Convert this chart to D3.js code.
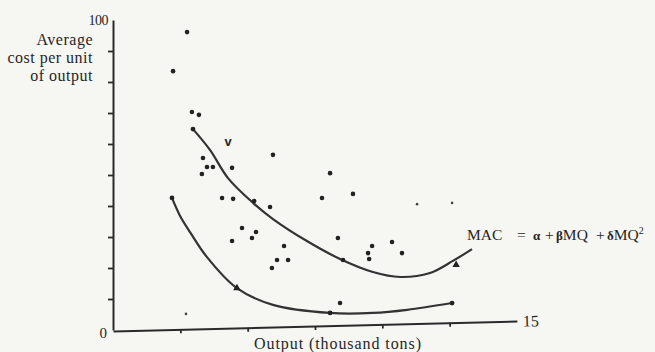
<!DOCTYPE html>
<html>
<head>
<meta charset="utf-8">
<script src="https://cdn.jsdelivr.net/npm/d3@7/dist/d3.min.js"></script>
<style>
  html, body { margin: 0; padding: 0; background: #f6f6f3; }
  svg { display: block; }
  text { font-family: "Liberation Serif", "DejaVu Serif", serif; fill: #262626; }
</style>
</head>
<body>
<svg id="chart" width="655" height="352"></svg>
<script>
// ---------- data (x: output, thousand tons; y: average cost per unit) ----------
const xDomain = [0, 15];
const yDomain = [0, 100];
const xTickValues = [2.5, 5, 7.5, 10, 12.5];
const yTickValues = [10, 20, 30, 40, 50, 60, 70, 80, 90];
const yEndLabels = ["0", "100"];
const xEndLabel = "15";

// observed plants (scatter)
const pointX = [2.75, 2.23, 2.93, 3.19, 5.94, 3.34, 3.49, 3.71, 3.30, 4.42,
                8.06, 7.76, 8.91, 4.05, 4.46, 5.24, 5.83, 4.79, 5.31, 5.16,
                4.42, 6.35, 8.35, 6.09, 6.50, 5.90, 8.54, 9.62, 9.47, 9.51,
                10.36, 10.73, 8.43];
const pointY = [96.1, 83.5, 70.3, 69.4, 56.5, 55.5, 52.6, 52.6, 50.3, 52.3,
                50.6, 42.6, 43.9, 42.6, 42.3, 41.6, 39.7, 32.9, 31.6, 29.7,
                28.7, 27.1, 29.7, 22.6, 22.6, 20.0, 22.6, 27.1, 24.8, 22.9,
                28.4, 24.8, 8.7];
// faint small dots
const smallX = [11.29, 12.59, 2.71];
const smallY = [40.6, 41.0, 5.2];
// "v" mark
const vMarkX = [4.27];
const vMarkY = [60.6];

// fitted curves
const upperX = [2.97, 3.60, 4.27, 5.20, 5.94, 7.20, 8.43, 9.65, 10.66, 11.77, 12.62, 13.33];
const upperY = [64.8, 58.1, 49.0, 41.0, 35.8, 28.7, 22.9, 18.7, 17.1, 18.4, 22.3, 26.1];
const lowerX = [2.19, 2.49, 2.86, 3.49, 4.60, 5.94, 8.06, 9.65, 10.92, 12.59];
const lowerY = [42.6, 36.8, 31.6, 23.5, 13.5, 8.1, 5.5, 5.5, 6.5, 8.7];

// markers on the curves
const triX = [4.60, 12.74];
const triY = [13.5, 21.0];
const dotX = [8.06, 12.59, 2.97, 2.19];
const dotY = [5.5, 8.7, 64.8, 42.6];

const yTitle = ["Average", "cost per unit", "of output"];
const xTitle = "Output (thousand tons)";

// ---------- drawing ----------
const svg = d3.select("#chart");
const ink = "#2a2a2a";

const x = d3.scaleLinear().domain(xDomain).range([113, 517]);
const y = d3.scaleLinear().domain(yDomain).range([330, 20]);

// y axis
const yAxis = svg.append("g")
  .attr("transform", `translate(${x(0)},0)`)
  .call(d3.axisLeft(y).tickValues(yTickValues).tickSize(5).tickSizeOuter(0).tickFormat(""));
yAxis.select(".domain").attr("stroke", ink).attr("stroke-width", 2);
yAxis.selectAll(".tick line").attr("stroke", ink).attr("stroke-width", 1.8);

// x axis (slightly tilted as in the scan)
const xAxis = svg.append("g")
  .attr("transform", `translate(0,${y(0) + 1}) rotate(-1.4, ${x(0)}, 0)`)
  .call(d3.axisBottom(x).tickValues(xTickValues).tickSize(4).tickSizeOuter(0).tickFormat(""));
xAxis.select(".domain").attr("stroke", ink).attr("stroke-width", 2);
xAxis.selectAll(".tick line").attr("stroke", ink).attr("stroke-width", 1.8);
xAxis.append("text")
  .attr("x", x(15) + 6).attr("y", 0).attr("dy", "0.35em")
  .attr("text-anchor", "start").style("font-size", "16px")
  .text(xEndLabel);

// end labels for y
svg.append("text").attr("x", 107).attr("y", 338).attr("text-anchor", "end")
  .style("font-size", "15px").text(yEndLabels[0]);
svg.append("text").attr("x", 108).attr("y", 25).attr("text-anchor", "end")
  .style("font-size", "14px").attr("letter-spacing", "-0.5").text(yEndLabels[1]);

// y title
svg.append("g").selectAll("text").data(yTitle).join("text")
  .attr("x", 93).attr("y", (d, i) => 45 + i * 18)
  .attr("text-anchor", "end").style("font-size", "16px")
  .attr("letter-spacing", "0.5")
  .text(d => d);

// x title
svg.append("text").attr("x", 254).attr("y", 349)
  .attr("textLength", 167).attr("lengthAdjust", "spacing")
  .style("font-size", "16px").text(xTitle);

// curves
const line = d3.line().x(d => x(d[0])).y(d => y(d[1])).curve(d3.curveCatmullRom.alpha(0.5));
const upper = d3.zip(upperX, upperY);
const lower = d3.zip(lowerX, lowerY);
svg.append("path").datum(upper).attr("d", line)
  .attr("fill", "none").attr("stroke", "#333").attr("stroke-width", 2.2);
svg.append("path").datum(lower).attr("d", line)
  .attr("fill", "none").attr("stroke", "#333").attr("stroke-width", 2.2);

// scatter
svg.append("g").selectAll("circle").data(d3.zip(pointX, pointY)).join("circle")
  .attr("cx", d => x(d[0])).attr("cy", d => y(d[1])).attr("r", 2.3)
  .attr("fill", "#222");
svg.append("g").selectAll("circle").data(d3.zip(smallX, smallY)).join("circle")
  .attr("cx", d => x(d[0])).attr("cy", d => y(d[1])).attr("r", 1.3)
  .attr("fill", "#444");

// curve markers
svg.append("g").selectAll("circle").data(d3.zip(dotX, dotY)).join("circle")
  .attr("cx", d => x(d[0])).attr("cy", d => y(d[1])).attr("r", 2.4)
  .attr("fill", "#222");
svg.append("g").selectAll("path").data(d3.zip(triX, triY)).join("path")
  .attr("transform", d => `translate(${x(d[0])},${y(d[1])})`)
  .attr("d", d3.symbol(d3.symbolTriangle, 24))
  .attr("fill", "#222");

// v mark
svg.append("g").selectAll("text").data(d3.zip(vMarkX, vMarkY)).join("text")
  .attr("x", d => x(d[0])).attr("y", d => y(d[1]) + 4)
  .attr("text-anchor", "middle")
  .style("font-family", "'Liberation Sans', sans-serif")
  .style("font-weight", "bold").style("font-size", "13px")
  .text("v");

// equation label
const eq = svg.append("text").attr("y", 240).style("font-size", "15.5px");
eq.append("tspan").attr("x", 467).text("MAC");
eq.append("tspan").attr("x", 517).text("=");
eq.append("tspan").attr("x", 533).style("font-weight", "bold").style("font-size", "13px").text("α");
eq.append("tspan").attr("x", 545).text("+");
eq.append("tspan").attr("x", 556).style("font-weight", "bold").style("font-size", "13px").text("β");
eq.append("tspan").text("MQ");
eq.append("tspan").attr("x", 596).text("+");
eq.append("tspan").attr("x", 607).style("font-weight", "bold").style("font-size", "13px").text("δ");
eq.append("tspan").text("MQ");
eq.append("tspan").attr("dy", -6).style("font-size", "10px").text("2");
</script>
</body>
</html>
